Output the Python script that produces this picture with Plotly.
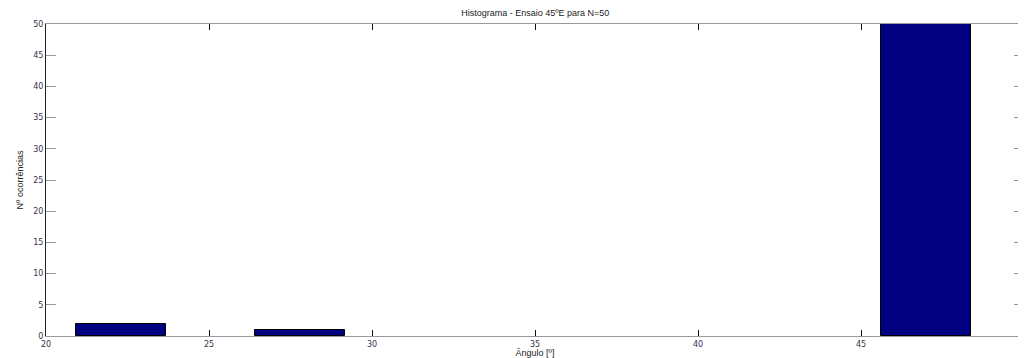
import plotly.graph_objects as go

# Data
bin_centers = [22.3, 25.05, 27.8, 30.55, 33.3, 36.05, 38.8, 41.55, 44.25, 47.0]
counts = [2, 0, 1, 0, 0, 0, 0, 0, 0, 50]
bin_width = 2.76

x_ticks = [20, 25, 30, 35, 40, 45, 50]
y_ticks = [0, 5, 10, 15, 20, 25, 30, 35, 40, 45, 50]

title_text = "Histograma - Ensaio 45ºE para N=50"
x_title = "Ângulo [º]"
y_title = "Nº ocorrências"

tick_font = dict(family="DejaVu Sans", size=8, color="#33334d")
outline_widths = [1 if c > 0 else 0 for c in counts]

fig = go.Figure()
fig.add_trace(go.Bar(
    x=bin_centers, y=counts, width=bin_width,
    marker=dict(color="#000080", line=dict(color="#000000", width=outline_widths)),
    showlegend=False,
))

# page body has an 8px default margin, so the figure is sized to fit the window
fig.update_layout(
    width=1018, height=350,
    margin=dict(l=38, r=2, t=16, b=22, autoexpand=False),
    paper_bgcolor="white", plot_bgcolor="white",
    bargap=0,
    title=dict(text=title_text, x=0.518, xanchor="center", y=0.985, yanchor="middle",
               font=dict(family="Liberation Sans", size=9, color="#222")),
)
fig.update_xaxes(
    range=[20, 50], tickvals=x_ticks, ticktext=[str(v) for v in x_ticks],
    ticks="inside", ticklen=6, tickcolor="#111", tickwidth=1,
    showline=True, linecolor="#999", linewidth=1, mirror="ticks",
    showgrid=False, zeroline=False, tickfont=tick_font, automargin=False,
    ticklabeloverflow="allow",
    title=dict(text=x_title, standoff=0, font=dict(family="Liberation Sans", size=9, color="#222")),
)
fig.update_yaxes(
    range=[0, 50], tickvals=y_ticks, ticktext=[str(v) for v in y_ticks],
    ticks="inside", ticklen=10, tickcolor="#999", tickwidth=1,
    showline=True, linecolor="#222", linewidth=1, mirror="ticks",
    showgrid=False, zeroline=False, tickfont=tick_font, automargin=False,
    title=dict(text=y_title, standoff=8, font=dict(family="Liberation Sans Narrow, Liberation Sans", size=9, color="#222")),
)

fig.write_html("out.html")
